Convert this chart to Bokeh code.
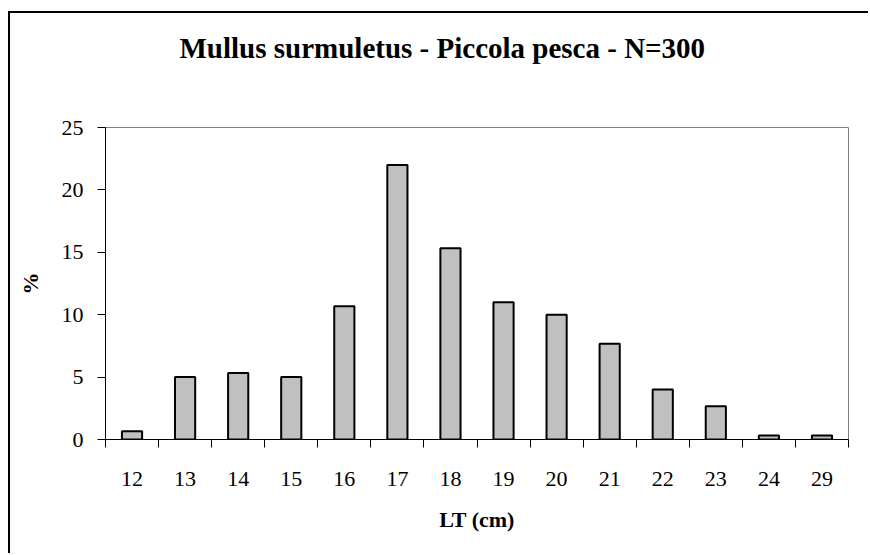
from bokeh.plotting import figure
from bokeh.models import FixedTicker, Title, ColumnDataSource
from bokeh.embed import file_html
from bokeh.resources import INLINE

categories = ["12", "13", "14", "15", "16", "17", "18", "19", "20", "21", "22", "23", "24", "29"]
percent = [0.67, 5.0, 5.33, 5.0, 10.67, 22.0, 15.33, 11.0, 10.0, 7.67, 4.0, 2.67, 0.33, 0.33]
y_ticks = [0, 5, 10, 15, 20, 25]
title_text = "Mullus surmuletus - Piccola pesca  - N=300"
x_label = "LT (cm)"
y_label = "%"

n = len(categories)
centers = [i + 0.5 for i in range(n)]
source = ColumnDataSource(dict(x=centers, top=percent, cat=categories))

FONT = "Liberation Serif"

p = figure(width=860, height=542, x_range=(0, n), y_range=(0, 25),
           output_backend="svg", toolbar_location=None,
           min_border_left=95, min_border_top=114, min_border_right=22,
           min_border_bottom=116)
p.margin = (11, 0, 0, 8)
p.styles = {"border-left": "2px solid #000", "border-top": "2px solid #000"}

p.vbar(x="x", top="top", width=0.38, source=source,
       fill_color="#c0c0c0", line_color="black", line_width=2)

p.xgrid.visible = False
p.ygrid.visible = False
p.outline_line_color = "#808080"
p.outline_line_width = 1
p.background_fill_color = "white"
p.border_fill_color = "white"

xa = p.xaxis[0]
xa.ticker = FixedTicker(ticks=centers, minor_ticks=list(range(n + 1)))
xa.major_label_overrides = {c: lab for c, lab in zip(centers, categories)}
xa.major_tick_out = 0
xa.major_tick_in = 0
xa.minor_tick_out = 8
xa.minor_tick_in = 0
xa.minor_tick_line_color = "black"
xa.axis_line_color = "black"
xa.major_label_standoff = 24
xa.major_label_text_font = FONT
xa.major_label_text_font_size = "22px"
xa.major_label_text_color = "black"
xa.axis_label = x_label
xa.axis_label_text_font = FONT
xa.axis_label_text_font_style = "bold"
xa.axis_label_text_font_size = "22px"
xa.axis_label_text_color = "black"
xa.axis_label_standoff = 18

ya = p.yaxis[0]
ya.ticker = FixedTicker(ticks=y_ticks)
ya.major_tick_out = 8
ya.major_tick_in = 0
ya.minor_tick_out = 0
ya.minor_tick_in = 0
ya.major_tick_line_color = "black"
ya.axis_line_color = "black"
ya.major_label_standoff = 14
ya.major_label_text_font = FONT
ya.major_label_text_font_size = "22px"
ya.major_label_text_color = "black"
ya.axis_label = y_label
ya.axis_label_text_font = FONT
ya.axis_label_text_font_style = "bold"
ya.axis_label_text_font_size = "22px"
ya.axis_label_text_color = "black"
ya.axis_label_standoff = 16

# spacer between the frame and the title
spacer = Title(text=" ", text_font_size="10px", standoff=46)
p.add_layout(spacer, "above")

p.title.text = title_text
p.title.align = "left"
p.title.offset = 74
p.title.text_font = FONT
p.title.text_font_style = "bold"
p.title.text_font_size = "29px"
p.title.text_color = "black"

open("out.html", "w").write(file_html(p, INLINE))
